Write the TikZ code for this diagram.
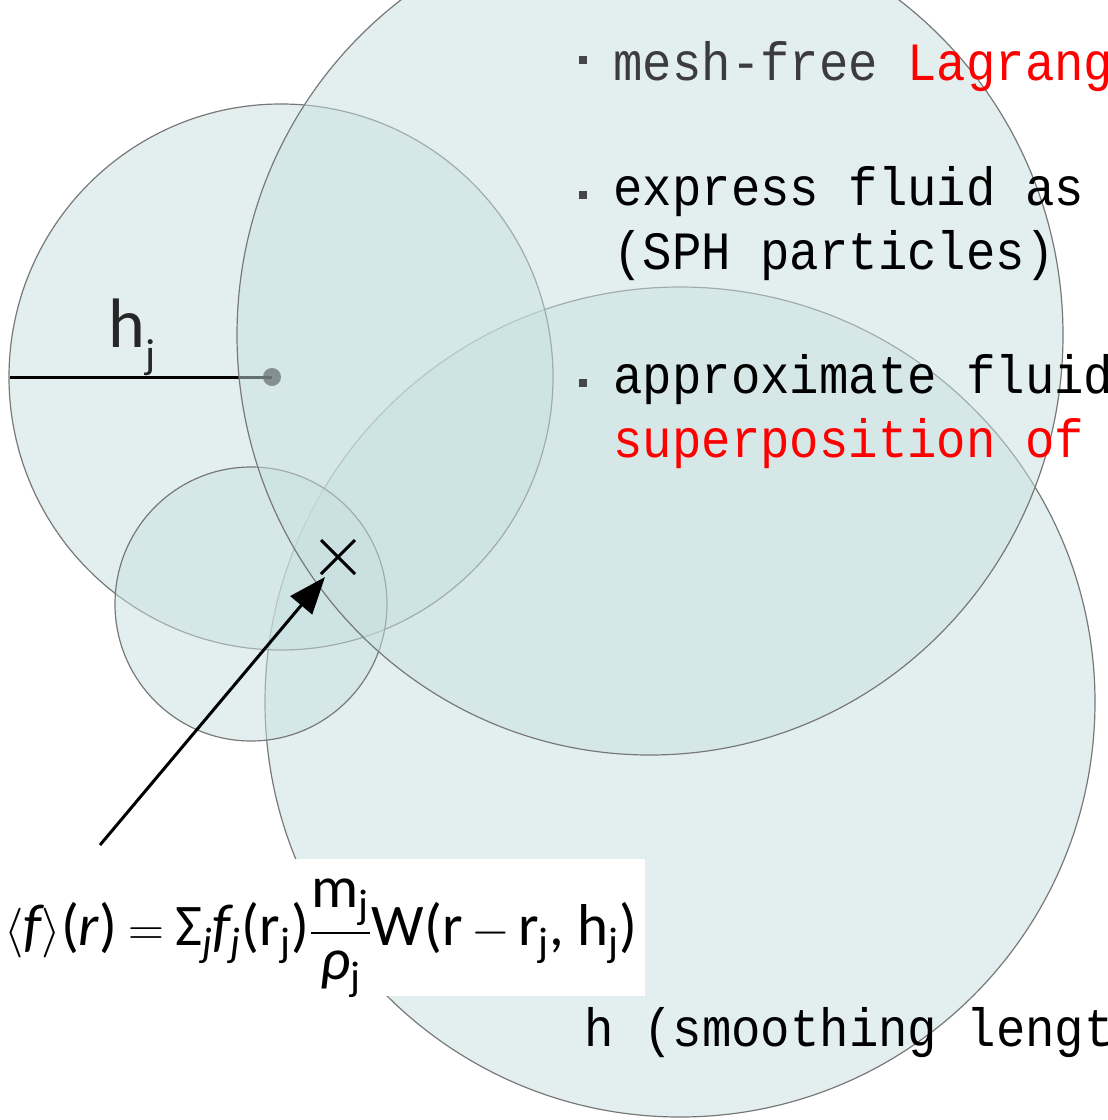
\documentclass[tikz,border=0pt]{standalone}
\usepackage{amsmath}
\usepackage{fontspec}
\newfontfamily\carl{Carlito}
\newfontfamily\monof{Liberation Mono}
\usetikzlibrary{arrows.meta,shapes.misc}
\definecolor{disk}{RGB}{201,225,225}
\definecolor{rim}{RGB}{120,120,120}
\definecolor{txtgray}{RGB}{60,60,60}
\definecolor{bulgray}{RGB}{70,70,70}
\newcommand\tx[1]{\text{#1}}
\newcommand\ti[1]{\text{\itshape #1}}
\begin{document}
\begin{tikzpicture}[x=0.5pt,y=-0.5pt,
  disc/.style={draw=rim, line width=0.6pt, fill=disk, fill opacity=0.5},
  mono/.style={font=\monof\fontsize{24.5}{26}\selectfont, anchor=base west, inner sep=0pt},
  bul/.style={fill=bulgray, minimum size=4pt, inner sep=0pt},
]
\useasboundingbox (0,0) rectangle (1108,1120);
\fill[white] (0,0) rectangle (1108,1120);
% circles
\draw[disc] (680,702) ellipse [x radius=415, y radius=415];
\draw[disc] (281,377) ellipse [x radius=272, y radius=273];
\draw[disc] (251,604) ellipse [x radius=136, y radius=137];
% radius h_j
\node[circle, fill=black!75, minimum size=9pt, inner sep=0pt] (pj) at (272,377) {};
\coordinate (edge) at (10,377);
\draw[line width=1.5pt] (edge) -- (pj.center);
\node[font=\carl\fontsize{35}{40}\selectfont, text=black!85, anchor=base west, inner sep=0pt] (hjlab) at (108,347) {h\raisebox{-0.3em}{\fontsize{21}{24}\selectfont j}};
% big circle on top
\draw[disc] (650,335) ellipse [x radius=413, y radius=420];
% cross and arrow
\node[cross out, draw=black, line width=1.5pt, minimum size=15.5pt, inner sep=0pt] (cross) at (338,557) {};
\coordinate (tail) at (100,845);
\coordinate (tip) at (325,577);
\draw[line width=1.5pt, -{Triangle[length=18.5pt,width=14pt]}] (tail) -- (tip);
% formula box
\fill[white] (0,859) rectangle (645,996);
\node[font=\carl\fontsize{29.5}{32}\selectfont, anchor=base west, inner sep=0pt] (formula) at (4,945)
{$\thickmuskip=4mu\medmuskip=3mu\langle\ti{f}\rangle\tx{(}\ti{r}\tx{)} = \tx{Σ}_{\ti{j}}\ti{f}_{\ti{j}}\tx{(r}_{\tx{j}}\tx{)}\dfrac{\tx{m}_{\tx{j}}}{\ti{ρ}_{\tx{j}}}\tx{W(r} - \tx{r}_{\tx{j}}\tx{, h}_{\tx{j}}\tx{)}$};
% right text
\node[bul] (b1) at (583,60) {};
\node[bul] (b2) at (583,195) {};
\node[bul] (b3) at (583,383) {};
\node[mono] (t1) at (613,80) {\scalebox{1}[1.1]{\textcolor{txtgray}{mesh-free }\textcolor{red}{Lagrang}}};
\node[mono] (t2) at (613,205) {\scalebox{1}[1.1]{express fluid as}};
\node[mono] (t3) at (613,269) {\scalebox{1}[1.1]{(SPH particles)}};
\node[mono] (t4) at (613,393) {\scalebox{1}[1.1]{approximate fluid}};
\node[mono] (t5) at (613,457) {\scalebox{1}[1.1]{\textcolor{red}{superposition of}}};
\node[mono] (t6) at (584,1046) {\scalebox{1}[1.1]{h (smoothing lengt}};
\end{tikzpicture}
\end{document}
